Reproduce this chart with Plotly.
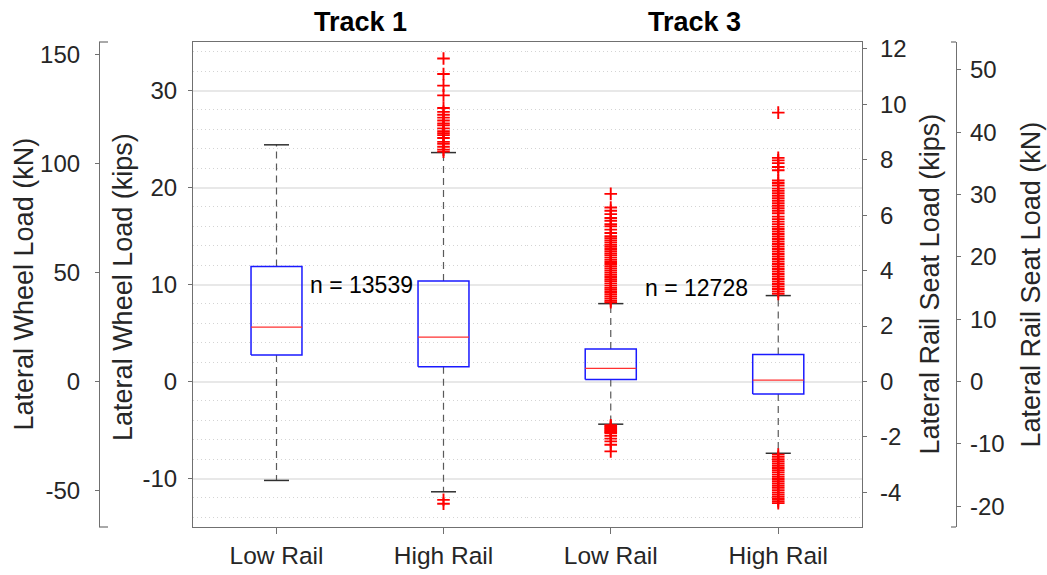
import plotly.graph_objects as go

# ---------------- data ----------------
categories = ["Low Rail", "High Rail"]
positions = [1, 2]

# Track 1 : lateral wheel load (kips)
t1_q1 = [2.72, 1.52]
t1_median = [5.60, 4.58]
t1_q3 = [11.86, 10.35]
t1_lower_whisker = [-10.20, -11.37]
t1_upper_whisker = [24.40, 23.60]
t1_low_outliers = []
t1_high_outliers = [33.3, 31.7, 30.5, 29.5, 28.2, 27.8, 27.5, 27.2, 26.9, 26.6,
                    26.4, 26.1, 25.8, 25.6, 25.4, 25.1, 24.7, 24.5, 24.2, 23.9,
                    23.7, -12.2, -12.6]
t1_n = 13539

# Track 3 : lateral rail seat load (kips)
t3_q1 = [0.07, -0.45]
t3_median = [0.47, 0.05]
t3_q3 = [1.17, 0.97]
t3_lower_whisker = [-1.54, -2.59]
t3_upper_whisker = [2.81, 3.10]
t3_low_outliers = [6.77, 6.28, 6.16, 6.04, 5.90, 5.80, 5.68, 5.60, 5.48, 5.36,
                   5.24, 5.17, 5.09, 5.01, 4.93, 4.86, 4.78, 4.70, 4.62, 4.55,
                   4.47, 4.39, 4.31, 4.24, 4.16, 4.08, 4.00, 3.93, 3.85, 3.77,
                   3.69, 3.62, 3.54, 3.46, 3.38, 3.31, 3.23, 3.15, 3.07, 3.00,
                   2.92, 2.86,
                   -1.58, -1.62, -1.66, -1.70, -1.74, -1.78, -1.82, -1.86,
                   -1.96, -2.06, -2.16, -2.28, -2.52]
t3_high_outliers = [9.70, 8.07, 7.98, 7.88, 7.74, 7.62, 7.25, 7.16, 7.07, 6.96,
                    6.88, 6.79, 6.70, 6.61, 6.52, 6.43, 6.34, 6.25, 6.16, 6.07,
                    5.95, 5.86, 5.77, 5.68, 5.59, 5.50, 5.41, 5.32, 5.23, 5.14,
                    5.05, 4.96, 4.87, 4.78, 4.69, 4.60, 4.51, 4.42, 4.33, 4.24,
                    4.15, 4.06, 3.97, 3.88, 3.79, 3.70, 3.61, 3.52, 3.43, 3.34,
                    3.25, 3.16,
                    -2.64, -2.72, -2.80, -2.88, -2.96, -3.04, -3.12, -3.20,
                    -3.28, -3.36, -3.44, -3.52, -3.60, -3.68, -3.76, -3.84,
                    -3.92, -4.00, -4.08, -4.16, -4.24, -4.32, -4.39]
t3_n = 12728

# axis tick values
wheel_kips_ticks = [-10, 0, 10, 20, 30]
wheel_kn_ticks = [-50, 0, 50, 100, 150]
seat_kips_ticks = [-4, -2, 0, 2, 4, 6, 8, 10, 12]
seat_kn_ticks = [-20, -10, 0, 10, 20, 30, 40, 50]

KN_PER_KIP = 4.448
wheel_range = [-15, 35]
seat_range = [-5.25, 12.25]

# ---------------- styling ----------------
FONT = "Liberation Sans, Arial, sans-serif"
TXT = "#262626"
AXC = "#707070"
BOX_W = 0.305
CAP_HALF = 0.075

fig = go.Figure()


def add_track(xa, ya, q1, med, q3, lw, uw, outliers_list):
    # whiskers
    wx, wy = [], []
    for p, a, b, c, d in zip(positions, q3, uw, q1, lw):
        wx += [p, p, None, p, p, None]
        wy += [a, b, None, c, d, None]
    fig.add_trace(go.Scatter(x=wx, y=wy, mode="lines", xaxis=xa, yaxis=ya,
                             line=dict(color="#5a5a5a", width=1.2, dash="7px,5px"),
                             showlegend=False, hoverinfo="skip"))
    # caps
    cx, cy = [], []
    for p, b, d in zip(positions, uw, lw):
        cx += [p - CAP_HALF, p + CAP_HALF, None, p - CAP_HALF, p + CAP_HALF, None]
        cy += [b, b, None, d, d, None]
    fig.add_trace(go.Scatter(x=cx, y=cy, mode="lines", xaxis=xa, yaxis=ya,
                             line=dict(color="#303030", width=1.5),
                             showlegend=False, hoverinfo="skip"))
    # boxes
    bx, by = [], []
    h = BOX_W / 2
    for p, a, c in zip(positions, q1, q3):
        bx += [p - h, p + h, p + h, p - h, p - h, None]
        by += [a, a, c, c, a, None]
    fig.add_trace(go.Scatter(x=bx, y=by, mode="lines", xaxis=xa, yaxis=ya,
                             line=dict(color="#1a1aff", width=1.5),
                             showlegend=False, hoverinfo="skip"))
    # medians
    mx, my = [], []
    for p, m in zip(positions, med):
        mx += [p - h, p + h, None]
        my += [m, m, None]
    fig.add_trace(go.Scatter(x=mx, y=my, mode="lines", xaxis=xa, yaxis=ya,
                             line=dict(color="#ff3030", width=1.3),
                             showlegend=False, hoverinfo="skip"))
    # outliers
    for p, outs in zip(positions, outliers_list):
        if not outs:
            continue
        fig.add_trace(go.Scatter(x=[p] * len(outs), y=outs, mode="markers",
                                 xaxis=xa, yaxis=ya,
                                 marker=dict(symbol="cross-thin", size=9,
                                             line=dict(color="#ff0000", width=1.9)),
                                 showlegend=False, hoverinfo="skip"))


add_track("x", "y", t1_q1, t1_median, t1_q3, t1_lower_whisker, t1_upper_whisker,
          [t1_low_outliers, t1_high_outliers])
add_track("x2", "y3", t3_q1, t3_median, t3_q3, t3_lower_whisker, t3_upper_whisker,
          [t3_low_outliers, t3_high_outliers])

# empty traces so that the grid-only and unit-conversion axes are drawn
for xa, ya in [("x2", "y2"), ("x", "y4"), ("x2", "y5")]:
    fig.add_trace(go.Scatter(x=[], y=[], xaxis=xa, yaxis=ya, mode="markers",
                             showlegend=False, hoverinfo="skip"))

# ---------------- layout ----------------
W, H = 1047, 575
ML, MR, MT, MB = 99, 91, 42, 48
pw = W - ML - MR
d_left = (193 - ML) / pw
d_mid = (527 - ML) / pw
d_right = (862 - ML) / pw


def lab(v):
    return [str(t) for t in v]


tickfont = dict(family=FONT, size=24, color=TXT)
xcommon = dict(range=[0.5, 2.5], tickmode="array", tickvals=positions, ticktext=categories,
               ticks="outside", ticklen=6, tickcolor=AXC, showline=True, linecolor=AXC,
               linewidth=1.2, mirror=True, showgrid=False, zeroline=False,
               tickfont=dict(family=FONT, size=24.5, color=TXT), automargin=False,
               fixedrange=True)
gridcommon = dict(showgrid=True, gridcolor="#e8e8e8", gridwidth=2,
                  minor=dict(dtick=2, tick0=0, showgrid=True, gridcolor="#d4d4d4",
                             griddash="1px,3px", gridwidth=1, ticks=""))
ycommon = dict(ticks="outside", ticklen=4, tickcolor=AXC, showline=True, linecolor=AXC,
               linewidth=1.2, zeroline=False, tickfont=tickfont, automargin=False,
               tickmode="array")

fig.update_layout(
    width=W, height=H, template="none",
    margin=dict(l=ML, r=MR, t=MT, b=MB, pad=0),
    paper_bgcolor="white", plot_bgcolor="white",
    font=dict(family=FONT, color=TXT),
    showlegend=False,
    xaxis=dict(domain=[d_left, d_mid], anchor="y", **xcommon),
    xaxis2=dict(domain=[d_mid, d_right], anchor="y2", **xcommon),
    yaxis=dict(domain=[0, 1], anchor="x", range=wheel_range,
               tickvals=wheel_kips_ticks, ticktext=lab(wheel_kips_ticks),
               mirror=False, ticklabelstandoff=6, **ycommon, **gridcommon),
    yaxis2=dict(domain=[0, 1], anchor="x2", range=wheel_range,
                tickmode="array", tickvals=wheel_kips_ticks,
                showticklabels=False, ticks="", showline=False, zeroline=False,
                automargin=False, **gridcommon),
    yaxis3=dict(overlaying="y2", anchor="x2", side="right", range=seat_range,
                tickvals=seat_kips_ticks, ticktext=lab(seat_kips_ticks),
                showgrid=False, ticklabelstandoff=8, **ycommon),
    yaxis4=dict(overlaying="y", anchor="free", position=0, side="left",
                range=[r * KN_PER_KIP for r in wheel_range],
                tickvals=wheel_kn_ticks, ticktext=lab(wheel_kn_ticks),
                showgrid=False, ticklabelstandoff=10, **ycommon),
    yaxis5=dict(overlaying="y2", anchor="free", position=1, side="right",
                range=[r * KN_PER_KIP for r in seat_range],
                tickvals=seat_kn_ticks, ticktext=lab(seat_kn_ticks),
                showgrid=False, ticklabelstandoff=4, **ycommon),
)

# bracket stubs at the ends of the outer kN axes
stub = 9 / pw
for x0, x1 in [(0, stub), (1 - 5 / pw, 1)]:
    for yy in (0, 1):
        fig.add_shape(type="line", xref="paper", yref="paper", x0=x0, x1=x1,
                      y0=yy, y1=yy, line=dict(color=AXC, width=1.2))

titlefont = dict(family=FONT, size=27, color=TXT)
ann = [
    dict(text="Lateral Wheel Load (kN)", x=(23 - ML) / pw, y=0.5),
    dict(text="Lateral Wheel Load (kips)", x=(123 - ML) / pw, y=0.495),
    dict(text="Lateral Rail Seat Load (kips)", x=(929 - ML) / pw, y=0.5),
    dict(text="Lateral Rail Seat Load (kN)", x=(1030 - ML) / pw, y=0.5),
]
for a in ann:
    fig.add_annotation(text=a["text"], x=a["x"], y=a["y"], xref="paper", yref="paper",
                       textangle=-90, showarrow=False, font=titlefont,
                       xanchor="center", yanchor="middle")

for txt, xc in [("Track 1", (360 - ML) / pw), ("Track 3", (694.5 - ML) / pw)]:
    fig.add_annotation(text="<b>%s</b>" % txt, x=xc, y=1 + 20 / (H - MT - MB),
                       xref="paper", yref="paper", showarrow=False,
                       font=dict(family=FONT, size=27, color="#000000"),
                       xanchor="center", yanchor="middle")

fig.add_annotation(text="n = %d" % t1_n, x=1.19, y=10, xref="x", yref="y",
                   showarrow=False, xanchor="left", yanchor="middle",
                   font=dict(family=FONT, size=23, color="#000000"))
fig.add_annotation(text="n = %d" % t3_n, x=1.19, y=3.37, xref="x2", yref="y3",
                   showarrow=False, xanchor="left", yanchor="middle",
                   font=dict(family=FONT, size=23, color="#000000"))

fig.write_html("out.html")
